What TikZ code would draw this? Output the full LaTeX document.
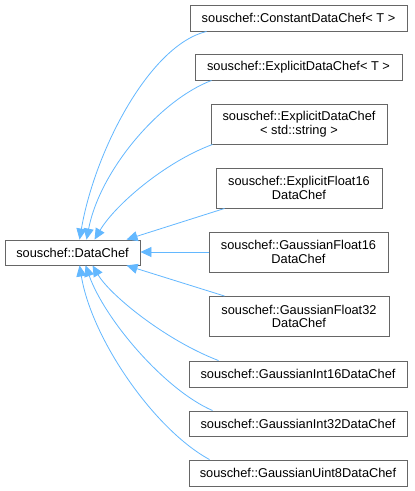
\documentclass[tikz,border=0pt]{standalone}
\usepackage{fontspec}
\setmainfont{Liberation Sans}
\usetikzlibrary{arrows.meta}
\definecolor{edgeblue}{HTML}{63B8FF}
\definecolor{boxgray}{HTML}{666666}
\tikzset{
  cls/.style={draw=boxgray, line width=0.9pt, fill=white, inner sep=0pt, align=center,
    font=\fontsize{12.8}{13.4}\selectfont, text=black},
  inh/.style={draw=edgeblue, line width=0.8pt,
    -{Triangle[length=11pt,width=10pt,fill=edgeblue]}}
}
\begin{document}
\begin{tikzpicture}[x=1pt,y=-1pt]
\useasboundingbox[fill=white] (0,0) rectangle (415,491);
\node[cls, minimum width=135pt, minimum height=25pt] (dc) at (72.5,252.5) {souschef::DataChef};
\node[cls, minimum width=217pt, minimum height=26pt] (b1) at (298.5,18) {souschef::ConstantDataChef< T >};
\node[cls, minimum width=207pt, minimum height=26pt] (b2) at (298.5,67) {souschef::ExplicitDataChef< T >};
\node[cls, minimum width=176pt, minimum height=40pt] (b3) at (299,124) {souschef::ExplicitDataChef\\< std::string >};
\node[cls, minimum width=166pt, minimum height=40pt] (b4) at (299,188) {souschef::ExplicitFloat16\\DataChef};
\node[cls, minimum width=179pt, minimum height=40pt] (b5) at (298.5,252) {souschef::GaussianFloat16\\DataChef};
\node[cls, minimum width=180pt, minimum height=40pt] (b6) at (299,316.5) {souschef::GaussianFloat32\\DataChef};
\node[cls, minimum width=218pt, minimum height=26pt] (b7) at (298,374) {souschef::GaussianInt16DataChef};
\node[cls, minimum width=218pt, minimum height=25pt] (b8) at (298,423.5) {souschef::GaussianInt32DataChef};
\node[cls, minimum width=218pt, minimum height=26pt] (b9) at (298,473) {souschef::GaussianUint8DataChef};

\draw[inh] ([xshift=17pt]b1.south west) .. controls (150,45) and (95,150) .. ([xshift=75pt]dc.north west);
\draw[inh] ([xshift=17pt]b2.south west) .. controls (160,100) and (100,170) .. ([xshift=82pt]dc.north west);
\draw[inh] ([xshift=2pt]b3.south west) .. controls (165,162) and (115,205) .. ([xshift=90pt]dc.north west);
\draw[inh] ([xshift=9pt]b4.south west) -- ([xshift=122pt]dc.north west);
\draw[inh] (b5.west) -- (b5.west -| dc.east);
\draw[inh] ([xshift=16pt]b6.north west) -- ([xshift=122pt]dc.south west);
\draw[inh] ([xshift=30pt]b7.north west) .. controls (165,340) and (110,295) .. ([xshift=88pt]dc.south west);
\draw[inh] ([xshift=24pt]b8.north west) .. controls (165,390) and (105,320) .. ([xshift=81pt]dc.south west);
\draw[inh] ([xshift=21pt]b9.north west) .. controls (155,430) and (92,340) .. ([xshift=75pt]dc.south west);
\end{tikzpicture}
\end{document}
